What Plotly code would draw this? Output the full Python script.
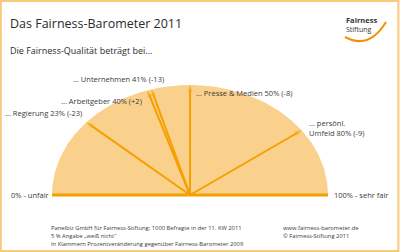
import numpy as np
import plotly.graph_objects as go

# ---- data ----
categories = ["Regierung", "Arbeitgeber", "Unternehmen", "Presse & Medien", "persönl. Umfeld"]
values = [23, 40, 41, 50, 80]          # Fairness-Qualität in %
changes = ["-23", "+2", "-13", "-8", "-9"]  # Veränderung ggü. 2009
scale_ends = [0, 100]
scale_labels = ["0% - unfair", "100% - sehr fair"]
footnotes = ["Panelbiz GmbH für Fairness-Stiftung; 1000 Befragte in der 11. KW 2011",
             "5 % Angabe „weiß nicht“",
             "In Klammern Prozentveränderung gegenüber Fairness-Barometer 2009"]
credits = ["www.fairness-barometer.de", "© Fairness-Stiftung 2011"]

# ---- gauge geometry (page pixel coordinates) ----
CX, CY, RX, RY = 190, 195, 138, 110
FILL = "#F9D08C"
LINE = "#F5A000"
TXT = "#3a3a3a"
FONT = "Open Sans"


def gauge_xy(v):
    t = np.pi * (1 - v / 100.0)
    return CX + RX * np.cos(t), CY - RY * np.sin(t)


fig = go.Figure()

# semi-ellipse background
tt = np.linspace(0, np.pi, 200)
fig.add_trace(go.Scatter(x=CX + RX * np.cos(tt), y=CY - RY * np.sin(tt), mode="lines",
                         fill="toself", fillcolor=FILL, line=dict(color=FILL, width=0),
                         hoverinfo="skip", showlegend=False))

# scale ends (0% and 100%)
for v in scale_ends:
    ex, ey = gauge_xy(v)
    fig.add_trace(go.Scatter(x=[CX, ex], y=[CY, ey], mode="lines",
                             line=dict(color=LINE, width=3), hoverinfo="skip", showlegend=False))

# needles
for v in values:
    ex, ey = gauge_xy(v)
    fig.add_trace(go.Scatter(x=[CX, ex], y=[CY, ey], mode="lines+markers",
                             line=dict(color=LINE, width=2),
                             marker=dict(symbol=["circle", "arrow"], size=[0, 7], angleref="previous",
                                         color=LINE, line=dict(width=0)),
                             hoverinfo="skip", showlegend=False))

ann = []
# needle labels, placed relative to each needle tip
offsets = {  # (dx, dy, xanchor)
    "Regierung": (-2, -9, "right"),
    "Arbeitgeber": (-3, 11, "right"),
    "Unternehmen": (14, -10, "right"),
    "Presse & Medien": (4, 8, "left"),
    "persönl. Umfeld": (5, -2, "left"),
}
for c, v, ch in zip(categories, values, changes):
    ex, ey = gauge_xy(v)
    dx, dy, xa = offsets[c]
    if c == "persönl. Umfeld":
        txt = f"... persönl.<br>Umfeld {v}% ({ch})"
    else:
        txt = f"... {c} {v}% ({ch})"
    ann.append(dict(x=ex + dx, y=ey + dy, text=txt, showarrow=False, xanchor=xa, yanchor="middle",
                    align="left", font=dict(size=7.5, color=TXT, family=FONT)))

# scale end labels
ann.append(dict(x=9, y=195, text=scale_labels[0], xanchor="left", yanchor="middle", showarrow=False,
                font=dict(size=7.5, color=TXT, family=FONT)))
ann.append(dict(x=332, y=195, text=scale_labels[1], xanchor="left", yanchor="middle", showarrow=False,
                font=dict(size=7.5, color=TXT, family=FONT)))

# titles
ann.append(dict(x=8, y=23, text="Das Fairness-Barometer 2011", xanchor="left", yanchor="middle",
                showarrow=False, font=dict(size=12.5, color="#2b2b2b", family=FONT)))
ann.append(dict(x=8, y=50, text="Die Fairness-Qualität beträgt bei...", xanchor="left", yanchor="middle",
                showarrow=False, font=dict(size=9, color="#2b2b2b", family=FONT)))

# logo
ann.append(dict(x=344, y=20, text="<b>Fairness</b>", xanchor="left", yanchor="middle", showarrow=False,
                font=dict(size=7.5, color="#333", family=FONT)))
ann.append(dict(x=344, y=29, text="Stiftung", xanchor="left", yanchor="middle", showarrow=False,
                font=dict(size=7, color="#333", family=FONT)))

# footnotes
for i, line in enumerate(footnotes):
    ann.append(dict(x=49, y=228.3 + 7.7 * i, text=line, xanchor="left", yanchor="middle", showarrow=False,
                    font=dict(size=5.8, color=TXT, family=FONT)))
for i, line in enumerate(credits):
    ann.append(dict(x=281, y=228.3 + 7.7 * i, text=line, xanchor="left", yanchor="middle", showarrow=False,
                    font=dict(size=5.8, color=TXT, family=FONT)))

shapes = [
    dict(type="rect", xref="paper", yref="paper", x0=0.002, y0=0.004, x1=0.996, y1=0.996,
         line=dict(color="#F9C97C", width=2), layer="above"),
    dict(type="path", path="M 345 37 Q 369 50 386 22", line=dict(color="#F39200", width=2)),
]

fig.update_layout(
    width=400, height=252, margin=dict(l=0, r=0, t=0, b=0),
    paper_bgcolor="white", plot_bgcolor="white",
    xaxis=dict(range=[0, 400], visible=False, fixedrange=True),
    yaxis=dict(range=[252, 0], visible=False, fixedrange=True),
    annotations=ann, shapes=shapes, showlegend=False,
)

fig.write_html("out.html")
